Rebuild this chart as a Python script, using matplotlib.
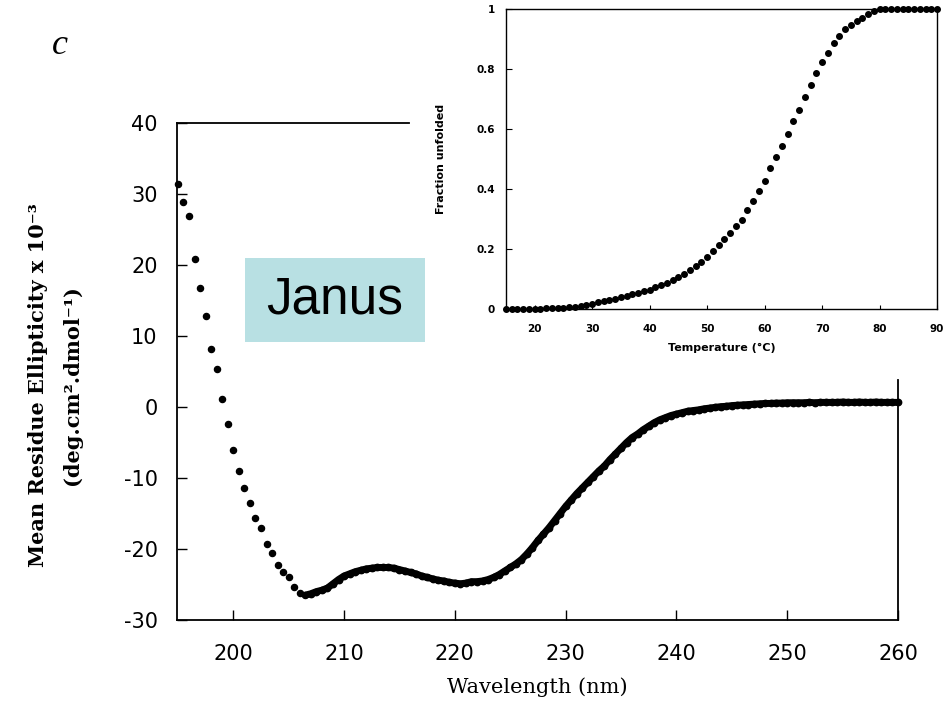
import numpy as np
import matplotlib
matplotlib.use("Agg")
import matplotlib.pyplot as plt
from matplotlib.patches import Rectangle

plt.rcParams["axes.unicode_minus"] = False

# CD spectrum, sampled every 0.5 nm from 195 to 260 nm
wavelength = np.arange(195.0, 260.01, 0.5)
ellipticity = [
    31.4, 28.9, 26.9, 20.8, 16.7, 12.8, 8.2, 5.4, 1.1, -2.4,
    -6.0, -9.0, -11.4, -13.5, -15.6, -17.0, -19.3, -20.5, -22.2, -23.3,
    -24.0, -25.4, -26.2, -26.5,
    -26.3, -26.0, -25.8, -25.5, -24.9, -24.3, -23.8, -23.5, -23.2, -23.0,
    -22.8, -22.7, -22.6, -22.6, -22.6, -22.7, -22.9, -23.1, -23.3, -23.5,
    -23.8, -24.0, -24.2, -24.4, -24.5, -24.7, -24.8, -24.9, -24.8, -24.6,
    -24.6, -24.5, -24.3, -24.0, -23.6, -23.1, -22.6, -22.1, -21.5, -20.7,
    -19.8, -18.8, -17.9, -17.0, -16.0, -15.0, -14.0, -13.1, -12.2, -11.4,
    -10.6, -9.8, -9.0, -8.3, -7.4, -6.6, -5.8, -5.0, -4.3, -3.8,
    -3.2, -2.7, -2.2, -1.8, -1.5, -1.2, -1.0, -0.8, -0.6, -0.5,
    -0.4, -0.25, -0.15, -0.05, 0.05, 0.1, 0.2, 0.25, 0.3, 0.35,
    0.4, 0.45, 0.5, 0.5, 0.55, 0.55, 0.6, 0.6, 0.6, 0.6,
    0.65, 0.6, 0.65, 0.65, 0.65, 0.65, 0.7, 0.65, 0.65, 0.7,
    0.65, 0.65, 0.7, 0.65, 0.65, 0.65, 0.65,
]
n_sparse = 24  # first points are drawn as separate dots

# thermal melt (inset)
temperature = np.arange(15, 91, 1)
frac_unfolded = [
    0.0, 0.0, 0.0, 0.0, 0.0, 0.001, 0.001, 0.002, 0.002, 0.003,
    0.004, 0.006, 0.008, 0.011, 0.014, 0.018, 0.022, 0.026, 0.030, 0.034,
    0.039, 0.044, 0.049, 0.054, 0.059, 0.065, 0.072, 0.080, 0.088, 0.097,
    0.107, 0.118, 0.130, 0.142, 0.157, 0.175, 0.195, 0.215, 0.234, 0.253,
    0.276, 0.298, 0.330, 0.360, 0.392, 0.428, 0.470, 0.507, 0.542, 0.584,
    0.626, 0.664, 0.706, 0.748, 0.787, 0.822, 0.855, 0.887, 0.910, 0.932,
    0.948, 0.960, 0.970, 0.982, 0.993, 1.0, 1.0, 1.0, 1.0, 1.0,
    1.0, 1.0, 1.0, 1.0, 1.0, 1.0,
]

W, H = 944, 709
fig = plt.figure(figsize=(W / 100, H / 100), dpi=100)

# ---- main CD spectrum ----
ax = fig.add_axes([177 / W, (H - 620) / H, (898 - 177) / W, (620 - 123) / H])
wl = np.asarray(wavelength)
el = np.asarray(ellipticity)
ax.plot(wl[:n_sparse], el[:n_sparse], "o", color="black", ms=4.4, clip_on=False)
ax.plot(wl[n_sparse - 1:], el[n_sparse - 1:], "-", color="black", lw=5.0,
        solid_capstyle="round", solid_joinstyle="round")
ax.plot(wl[n_sparse:], el[n_sparse:], "o", color="black", ms=4.6, clip_on=False)

ax.set_xlim(194.92, 260)
ax.set_ylim(-30, 40)
ax.set_xticks([200, 210, 220, 230, 240, 250, 260])
ax.set_yticks([-30, -20, -10, 0, 10, 20, 30, 40])
ax.tick_params(axis="x", direction="in", length=7, width=1, pad=17, labelsize=15)
ax.tick_params(axis="y", direction="in", length=7, width=1, pad=14, labelsize=15)
for lab in ax.get_xticklabels() + ax.get_yticklabels():
    lab.set_family("DejaVu Sans")
for s in ax.spines.values():
    s.set_linewidth(1.3)
ax.spines["top"].set_bounds(194.92, 215.9)
ax.spines["right"].set_bounds(-30, 3.8)

ax.set_xlabel("Wavelength (nm)", family="DejaVu Serif", fontsize=15, labelpad=10)

fig.text(38 / W, 1 - 385 / H, "Mean Residue Ellipticity x 10\u207b\u00b3",
         rotation=90, ha="center", va="center", fontsize=15, fontweight="bold",
         family="DejaVu Serif")
fig.text(72 / W, 1 - 385 / H, "(deg.cm\u00b2.dmol\u207b\u00b9)",
         rotation=90, ha="center", va="center", fontsize=15, fontweight="bold",
         family="DejaVu Serif")

fig.text(60 / W, 1 - 45 / H, "c", ha="center", va="center", fontsize=26,
         style="italic", family="Liberation Serif")

# label box
fig.add_artist(Rectangle((245 / W, (H - 342) / H), 180 / W, 84 / H,
                         transform=fig.transFigure, facecolor="#b8e0e3",
                         edgecolor="none", zorder=5))
fig.text(335 / W, 1 - 300 / H, "Janus", ha="center", va="center",
         fontsize=37, family="Liberation Sans", zorder=6)

# ---- inset: thermal unfolding ----
ins = fig.add_axes([506 / W, (H - 309) / H, 431 / W, 300 / H])
ins.plot(temperature, frac_unfolded, "o", color="black", ms=4.0, clip_on=False)
ins.set_xlim(15, 90)
ins.set_ylim(0, 1)
ins.set_xticks([20, 30, 40, 50, 60, 70, 80, 90])
ins.set_yticks([0, 0.2, 0.4, 0.6, 0.8, 1])
ins.set_yticklabels(["0", "0.2", "0.4", "0.6", "0.8", "1"])
ins.tick_params(axis="x", direction="in", length=3, width=0.8, pad=11, labelsize=7.5)
ins.tick_params(axis="y", direction="in", length=4, width=0.8, pad=8, labelsize=7.5)
for lab in ins.get_xticklabels() + ins.get_yticklabels():
    lab.set_fontweight("bold")
for s in ins.spines.values():
    s.set_linewidth(1.0)
ins.set_xlabel("Temperature (\u00b0C)", fontsize=8, fontweight="bold", labelpad=6)
ins.set_ylabel("Fraction unfolded", fontsize=8, fontweight="bold", labelpad=22)

fig.savefig("out.png", dpi=100)
